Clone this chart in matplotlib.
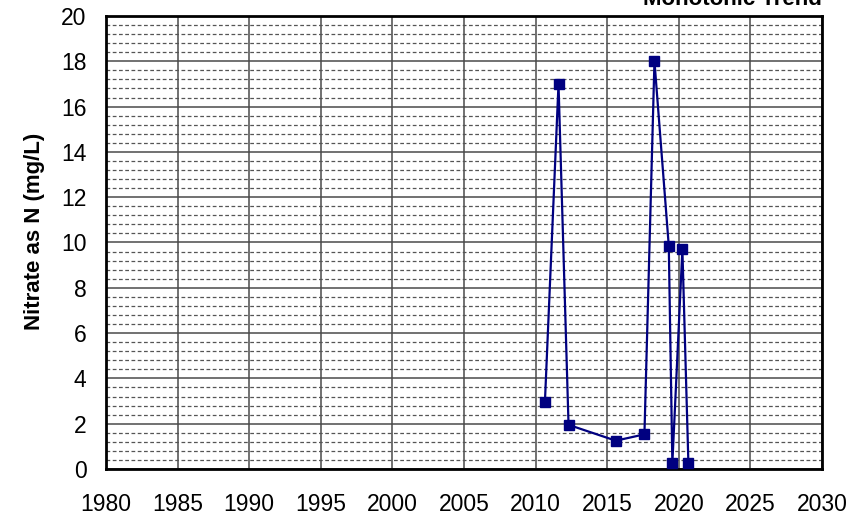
import matplotlib.pyplot as plt
from matplotlib.ticker import MultipleLocator

plt.rcParams['font.family'] = ['Liberation Sans', 'DejaVu Sans']

years = [2010.65, 2011.6, 2012.3, 2015.6, 2017.6, 2018.3, 2019.3, 2019.55, 2020.25, 2020.67]
nitrate = [2.95, 17.0, 1.95, 1.25, 1.53, 18.0, 9.85, 0.25, 9.7, 0.25]

x_ticks = list(range(1980, 2031, 5))
y_ticks = list(range(0, 21, 2))


def main():
    fig = plt.figure(figsize=(8.63, 5.15), dpi=100)
    ax = fig.add_axes([106 / 863, 1 - 469 / 515, (822 - 106) / 863, (469 - 16) / 515])

    ax.set_xlim(1980, 2030)
    ax.set_ylim(0, 20)
    ax.set_xticks(x_ticks)
    ax.set_yticks(y_ticks)
    ax.yaxis.set_minor_locator(MultipleLocator(0.4))

    ax.grid(True, which='major', axis='both', color='#4a4a4a', linewidth=1.1, linestyle='-')
    ax.grid(True, which='minor', axis='y', color='#555555', linewidth=0.9, linestyle=(0, (3, 2)))
    ax.set_axisbelow(True)

    ax.plot(years, nitrate, color='#000080', linewidth=1.6, marker='s', markersize=7,
            markerfacecolor='#000080', markeredgecolor='#000080', zorder=3)

    ax.tick_params(axis='both', which='both', length=0, labelsize=16.5)
    ax.tick_params(axis='y', pad=14)
    ax.tick_params(axis='x', pad=17)
    for s in ax.spines.values():
        s.set_linewidth(2)
        s.set_color('black')

    ax.set_ylabel('Nitrate as N (mg/L)', fontsize=16, fontweight='bold')
    ax.yaxis.set_label_coords(45 / 863, 1 - 231 / 515, transform=fig.transFigure)

    fig.text(822 / 863, 1 - 5 / 515, 'Monotonic Trend', ha='right', va='baseline',
             fontsize=16, fontweight='bold')

    fig.savefig('out.png', dpi=100)


if __name__ == '__main__':
    main()
